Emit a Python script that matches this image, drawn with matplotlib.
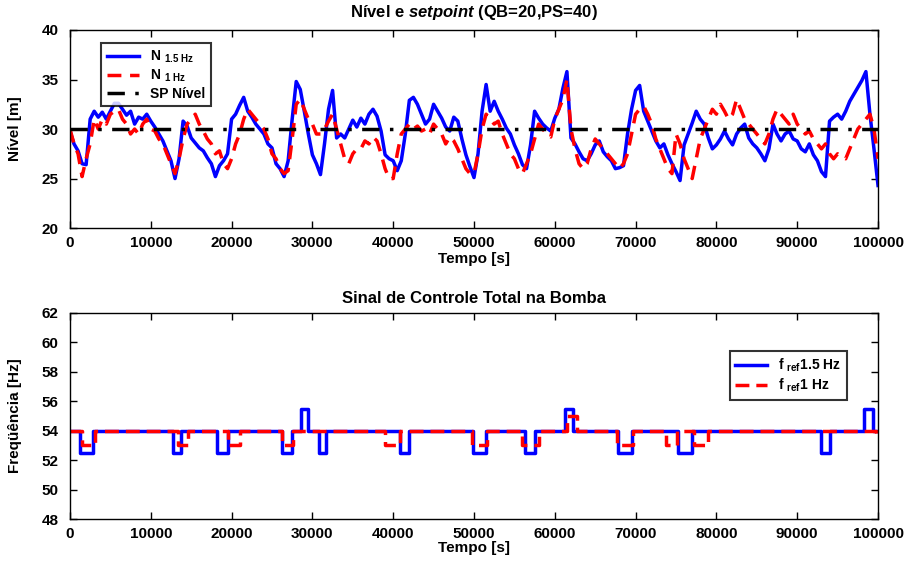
import matplotlib
matplotlib.use("Agg")
import matplotlib.pyplot as plt
import numpy as np

plt.rcParams['font.family'] = 'Liberation Sans'
plt.rcParams['font.weight'] = 'bold'
plt.rcParams['mathtext.fontset'] = 'custom'
plt.rcParams['mathtext.rm'] = 'Liberation Sans:bold'
plt.rcParams['mathtext.it'] = 'Liberation Sans:bold:italic'

# nivel (m), amostrado a cada 500 s
tempo = np.arange(0, 100500, 500)
nivel_15hz = [
    29.8, 28.5, 27.8, 26.5, 26.4, 31.0, 31.8, 31.2, 31.7, 31.0,
    31.8, 32.6, 32.6, 32.0, 31.4, 31.8, 30.5, 31.2, 31.0, 31.5,
    30.8, 30.2, 29.5, 28.8, 27.8, 26.8, 25.0, 27.0, 30.8, 30.3,
    29.1, 28.6, 28.1, 27.8, 27.1, 26.5, 25.2, 26.3, 26.8, 27.5,
    31.0, 31.5, 32.4, 33.2, 31.8, 31.2, 30.5, 30.0, 29.5, 28.5,
    28.1, 26.5, 26.0, 25.2, 26.8, 31.0, 34.8, 34.0, 31.8, 29.5,
    27.4, 26.5, 25.4, 28.5, 32.0, 33.9, 29.1, 29.5, 29.1, 30.0,
    30.9, 30.2, 31.1, 30.5, 31.5, 32.0, 31.3, 29.8, 27.4, 27.0,
    26.8, 25.8, 26.8, 29.5, 32.9, 33.2, 32.5, 31.5, 30.5, 31.0,
    32.5, 31.8, 31.1, 30.2, 29.8, 31.2, 30.8, 29.0, 27.4, 26.2,
    25.1, 27.5, 31.8, 34.5, 31.8, 32.8, 31.8, 31.0, 30.1, 29.5,
    28.4, 27.5, 26.4, 26.0, 28.4, 31.8, 31.1, 30.5, 30.1, 29.8,
    31.1, 32.0, 34.1, 35.8, 29.1, 28.5, 27.7, 27.0, 26.8, 27.5,
    28.4, 28.8, 27.7, 27.2, 26.8, 26.0, 26.1, 26.3, 29.5, 32.0,
    33.9, 34.4, 31.8, 30.8, 29.8, 28.8, 28.1, 28.5, 27.4, 26.5,
    25.7, 24.8, 28.4, 29.5, 30.6, 31.8, 31.0, 30.5, 29.1, 28.0,
    28.4, 29.0, 29.8, 29.0, 28.4, 29.5, 30.1, 30.5, 29.1, 28.5,
    28.1, 27.5, 26.8, 28.0, 30.5, 29.5, 28.8, 29.5, 29.8, 29.0,
    28.8, 28.0, 27.7, 28.5, 27.4, 26.8, 25.7, 25.2, 30.8, 31.2,
    31.5, 31.0, 31.8, 32.8, 33.5, 34.2, 34.9, 35.8, 31.5, 28.0,
    24.3]
nivel_1hz = [
    30.0, 28.5, 27.5, 25.2, 27.0, 28.5, 31.0, 30.0, 31.0, 30.5,
    31.5, 31.8, 32.0, 31.0, 30.5, 29.5, 30.0, 29.5, 30.5, 31.0,
    30.0, 29.8, 29.0, 28.5, 27.5, 26.5, 25.5, 27.0, 29.0, 30.5,
    31.0, 31.5, 30.5, 29.8, 29.0, 28.5, 27.5, 27.8, 26.5, 26.0,
    27.0, 28.5, 29.5, 31.0, 32.0, 31.5, 31.0, 30.5, 30.0, 29.0,
    27.5, 27.0, 26.0, 25.5, 25.8, 29.0, 32.5, 33.0, 32.0, 31.0,
    30.5, 29.5, 29.5, 30.0, 30.8, 31.5, 30.0, 28.5, 27.0, 26.5,
    27.5, 28.0, 28.0, 28.8, 28.5, 29.2, 28.8, 27.5, 26.0, 25.0,
    25.0, 27.5, 29.5, 30.0, 30.5, 30.0, 30.3, 29.8, 30.0, 29.5,
    30.5, 30.0, 29.5, 28.5, 29.2, 28.8, 28.0, 27.0, 26.0, 25.5,
    25.5, 27.5, 30.0, 31.5, 31.0, 30.5, 30.8, 29.5, 28.5, 27.5,
    27.0, 26.0, 25.5, 26.5, 27.5, 29.0, 30.5, 30.0, 29.5, 29.2,
    31.0, 32.0, 33.0, 35.0, 30.0, 28.0, 26.5, 26.0, 26.5, 28.0,
    29.0, 28.5, 28.0, 27.5, 27.0, 26.5, 26.0, 26.5, 27.5, 29.5,
    31.5, 32.0, 32.3, 31.5, 30.5, 29.0, 28.0, 27.0, 26.0, 25.5,
    29.5, 28.5, 27.0, 26.0, 25.0, 27.0, 29.0, 30.0, 31.0, 32.0,
    31.5, 32.5, 31.8, 31.0, 31.5, 33.0, 32.0, 31.0, 30.5, 30.0,
    29.5, 29.0, 28.5, 29.5, 31.0, 32.0, 31.5, 31.0, 30.5, 31.5,
    30.5, 30.0, 29.5, 29.8, 29.0, 28.5, 28.0, 28.5, 27.5, 27.0,
    27.5, 27.2, 27.0, 28.0, 29.0, 30.0, 30.5, 31.0, 31.5, 30.0,
    27.0]
setpoint = 30

# frequencia de referencia (Hz), instantes de mudanca
f15_t = [0, 1300, 2800, 12800, 13700, 18200, 19500, 26300, 27500, 28600,
         29400, 30800, 31700, 40800, 42000, 49900, 51500, 56300, 57600, 61300,
         62300, 67800, 69500, 75300, 77000, 92900, 94000, 98300, 99400, 100000]
f15_v = [54, 52.5, 54, 52.5, 54, 52.5, 54, 52.5, 54, 55.5,
         54, 52.5, 54, 52.5, 54, 52.5, 54, 52.5, 54, 55.5,
         54, 52.5, 54, 52.5, 54, 52.5, 54, 55.5, 54, 54]
f1_t = [0, 1450, 3100, 13400, 14650, 19600, 21000, 26200, 27650, 39000,
        40850, 49700, 51600, 55900, 58000, 61500, 62700, 67700, 69700, 73700,
        75100, 77200, 79000, 99800, 100000]
f1_v = [54, 53, 54, 53, 54, 53, 54, 53, 54, 53,
        54, 53, 54, 53, 54, 55, 54, 53, 54, 53,
        54, 53, 54, 53.6, 53.6]

xticks = np.arange(0, 110000, 10000)


def style_axis(ax):
    ax.tick_params(direction='in', top=True, right=True, length=5,
                   width=1, labelsize=11)
    ax.tick_params(axis='x', pad=6)
    ax.tick_params(axis='y', pad=8)
    for s in ax.spines.values():
        s.set_linewidth(1)
    ax.set_xlim(0, 100000)
    ax.set_xticks(xticks)
    ax.set_xticklabels([str(v) for v in xticks])


fig = plt.figure(figsize=(9.11, 5.66), dpi=100)
ax1 = fig.add_axes([0.0768, 0.597, 0.887, 0.350])
ax2 = fig.add_axes([0.0768, 0.083, 0.887, 0.364])

ax1.plot(tempo, nivel_15hz, color='blue', lw=2.5,
         label='N $_{\\mathrm{1.5\\ Hz}}$')
ax1.plot(tempo, nivel_1hz, color='red', lw=2.5, dashes=(4, 2.5),
         label='N $_{\\mathrm{1\\ Hz}}$')
ax1.plot([0, 100000], [setpoint, setpoint], color='black', lw=2.5,
         dashes=(5, 3, 1, 3), label='SP Nível')
style_axis(ax1)
ax1.set_ylim(20, 40)
ax1.set_yticks([20, 25, 30, 35, 40])
ax1.set_title('Nível e $\\it{setpoint}$ (QB=20,PS=40)',
              fontsize=12, fontweight='bold', pad=9)
ax1.set_xlabel('Tempo [s]', fontsize=11, fontweight='bold', labelpad=1)
ax1.set_ylabel('Nível [m]', fontsize=11, fontweight='bold', labelpad=14)
leg1 = ax1.legend(loc='upper left', bbox_to_anchor=(0.03, 0.97),
                  fontsize=10, frameon=True, fancybox=False,
                  edgecolor='black', handlelength=2.3, borderpad=0.4,
                  labelspacing=0.2)
leg1.get_frame().set_linewidth(1.5)

ax2.step(f15_t, f15_v, where='post', color='blue', lw=2.5,
         label='f $_{\\mathrm{ref}}$1.5 Hz')
ax2.step(f1_t, f1_v, where='post', color='red', lw=2.5, dashes=(4, 2),
         label='f $_{\\mathrm{ref}}$1 Hz')
style_axis(ax2)
ax2.set_ylim(48, 62)
ax2.set_yticks(np.arange(48, 63, 2))
ax2.set_title('Sinal de Controle Total na Bomba', fontsize=12,
              fontweight='bold', pad=7)
ax2.set_xlabel('Tempo [s]', fontsize=11, fontweight='bold', labelpad=0)
ax2.set_ylabel('Freqüência [Hz]', fontsize=11, fontweight='bold',
               labelpad=14)
leg2 = ax2.legend(loc='upper right', bbox_to_anchor=(0.97, 0.85),
                  fontsize=10, frameon=True, fancybox=False,
                  edgecolor='black', handlelength=2.3, borderpad=0.4,
                  labelspacing=0.2)
leg2.get_frame().set_linewidth(1.5)

fig.savefig('out.png', dpi=100)
